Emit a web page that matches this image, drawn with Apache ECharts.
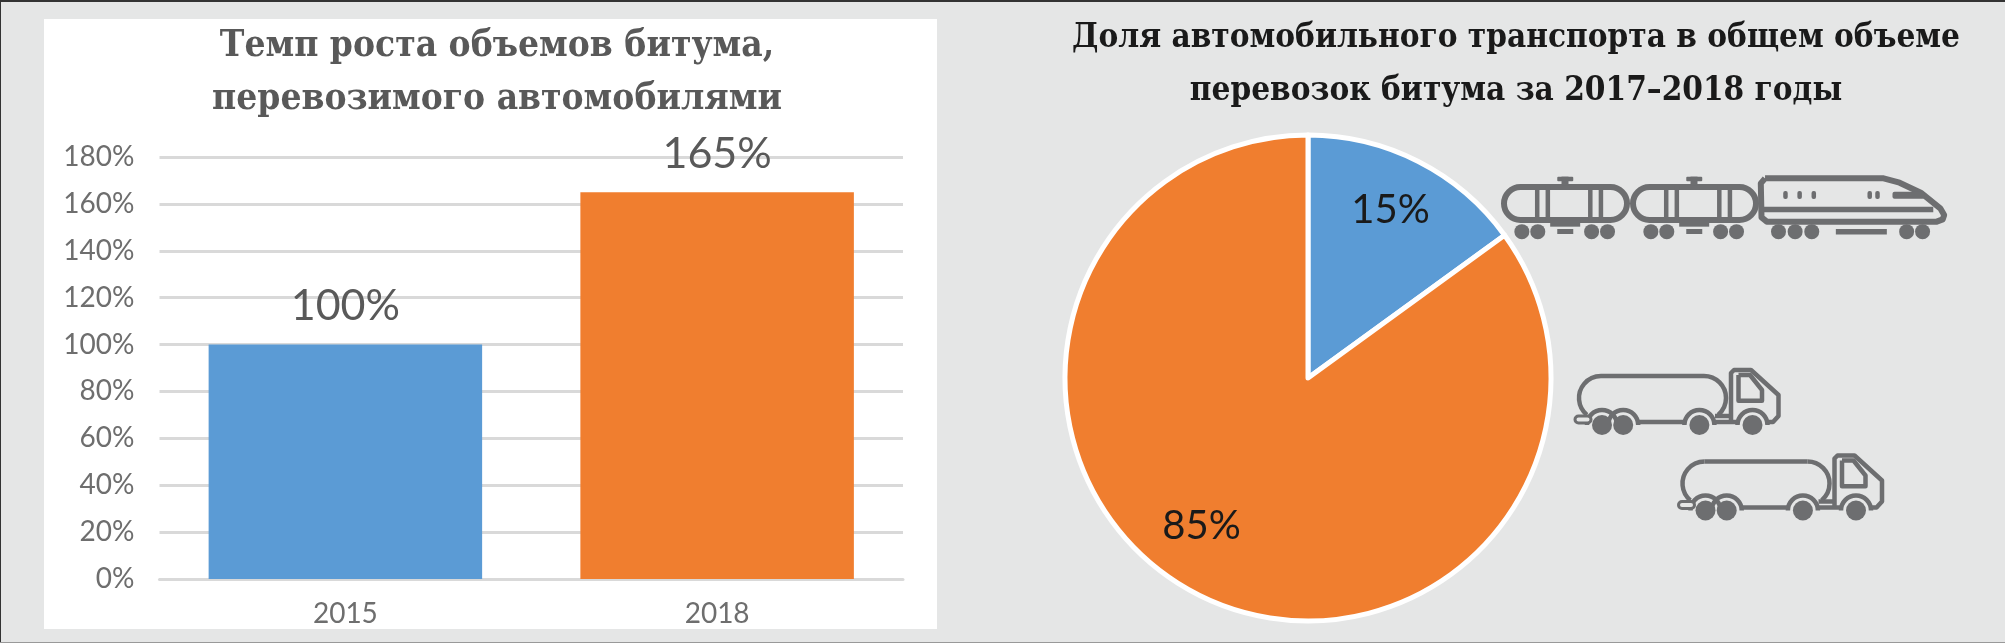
<!DOCTYPE html>
<html lang="ru">
<head>
<meta charset="utf-8">
<title>Битум</title>
<style>
  html, body { margin: 0; padding: 0; background: #e5e6e6; }
  #chart { width: 2005px; height: 643px; }
</style>
<script src="https://cdn.jsdelivr.net/npm/echarts@6/dist/echarts.min.js"></script>
</head>
<body>
<div id="chart"></div>
<script>
// данные графиков
const years = ['2015', '2018'];
const growth = [100, 165];
const barColors = ['#5b9bd5', '#f07e2f'];
const yTicks = [0, 20, 40, 60, 80, 100, 120, 140, 160, 180];
const shareNames = ['Железнодорожный транспорт', 'Автомобильный транспорт'];
const shares = [15, 85];
const pieColors = ['#5b9bd5', '#f07e2f'];

const ICON = '#6d6e70';
const BG = '#e5e6e6';
const SW = 4.5; // толщина линий у грузовика

// координаты из кропа иконок
const X = z => 1450 + z / 2.825;
const Y = z => 130 + z / 3;
const rad = d => d * Math.PI / 180;

const line = (x1, y1, x2, y2, w) => ({
  type: 'line', z: 10,
  shape: { x1, y1, x2, y2 },
  style: { stroke: ICON, lineWidth: w || SW, fill: null }
});
const poly = (points, w) => ({
  type: 'polyline', z: 10,
  shape: { points },
  style: { stroke: ICON, lineWidth: w || SW, fill: null, lineJoin: 'round' }
});
const arc = (cx, cy, r, a, b) => ({
  type: 'arc', z: 10,
  shape: { cx, cy, r, startAngle: rad(a), endAngle: rad(b), clockwise: true },
  style: { stroke: ICON, lineWidth: SW, fill: null }
});
const wheel = (cx, cy, r) => ({
  type: 'circle', z: 11,
  shape: { cx, cy, r },
  style: { fill: ICON }
});
const block = (x, y, width, height, r) => ({
  type: 'rect', z: 10,
  shape: { x, y, width, height, r: r || 0 },
  style: { fill: ICON }
});

// цистерна-вагон, ox — сдвиг вправо в пикселях
function wagon(ox) {
  const children = [
    {
      type: 'rect', z: 10,
      shape: { x: 1504, y: 187, width: 123, height: 33, r: 16.5 },
      style: { stroke: ICON, lineWidth: 6, fill: null }
    },
    block(X(240), 186, 4.5, 35), block(X(270), 186, 4.5, 35),
    block(X(390), 186, 4.5, 35), block(X(420), 186, 4.5, 35),
    block(X(303), Y(140), 16, 4.5, 1), block(X(315), Y(140), 7, 9),
    block(X(283), Y(272), 30, 6), block(X(303), Y(297), 16, 5)
  ];
  [203, 248, 400, 445].forEach(z => children.push(wheel(X(z), Y(305), 7.5)));
  return { type: 'group', x: ox, y: 0, children };
}

function train() {
  const body = [
    [X(890), Y(145)], [X(1225), Y(145)], [X(1270), Y(158)], [X(1330), Y(188)],
    [X(1385), Y(235)], [X(1396), Y(255)], [X(1392), Y(268)], [X(1375), Y(275)],
    [X(895), Y(275)], [X(880), Y(262)], [X(878), Y(160)], [X(890), Y(145)]
  ];
  const children = [
    poly(body, 6),
    block(X(885), Y(230), 170, 5.5),
    block(X(1250), Y(185), 32, 7, 2),
    block(X(1090), Y(297), 51, 5.5)
  ];
  [947, 987, 1027, 1185, 1207].forEach(z => {
    children.push(block(X(z) - 2, Y(195) - 4, 4.5, 8, 2));
  });
  [928, 975, 1022, 1290, 1335].forEach(z => children.push(wheel(X(z), Y(305), 7.5)));
  return { type: 'group', children };
}

// бензовоз, координаты от левого верхнего угла цистерны
function truck(ox, oy) {
  const children = [
    arc(22, 22, 22, 130, 270),
    line(22, 0, 125, 0),
    arc(125, 22, 22, -90, 50),
    poly([[136, 40], [152, 40]]),
    arc(23, 49, 15, 180, 360),
    arc(44.2, 49, 15, 180, 360),
    arc(120.4, 49, 15, 180, 360),
    arc(173.5, 49, 15, 180, 360),
    line(58.4, 46, 106, 46),
    line(134, 46, 159, 46),
    poly([[152, 45], [152, -3], [155, -6], [172, -6], [199.5, 19], [199.5, 40], [194, 46], [188, 46]]),
    poly([[159.5, -1], [171, -1], [183, 14], [183, 24.7], [159.5, 24.7], [159.5, -1]]),
    {
      type: 'rect', z: 10,
      shape: { x: -4, y: 40, width: 16, height: 7, r: 3.5 },
      style: { stroke: ICON, lineWidth: 3, fill: BG }
    }
  ];
  [23, 44.2, 120.4, 173.5].forEach(x => children.push(wheel(x, 49, 10)));
  return { type: 'group', x: ox, y: oy, children };
}

const chart = echarts.init(document.getElementById('chart'));

const option = {
  backgroundColor: BG,
  animation: false,
  title: [
    {
      text: 'Темп роста объемов битума,\nперевозимого автомобилями',
      left: 492, top: 15, textAlign: 'center',
      textStyle: {
        color: '#595959', fontFamily: '"DejaVu Serif Condensed", "DejaVu Serif"',
        fontWeight: 'bold', fontSize: 36.75, lineHeight: 53
      }
    },
    {
      text: 'Доля автомобильного транспорта в общем объеме\nперевозок битума за 2017–2018 годы',
      left: 1511, top: 7, textAlign: 'center',
      textStyle: {
        color: '#1a1a1a', fontFamily: '"DejaVu Serif Condensed", "DejaVu Serif"',
        fontWeight: 'bold', fontSize: 33, lineHeight: 53
      }
    }
  ],
  grid: { left: 159.5, width: 743.5, top: 157, height: 422 },
  xAxis: {
    type: 'category',
    data: years,
    axisTick: { show: false },
    axisLine: { lineStyle: { color: '#d9d9d9', width: 3 } },
    axisLabel: { color: '#6e6e6e', fontFamily: 'Lato', fontSize: 28, margin: 21 }
  },
  yAxis: {
    type: 'value',
    min: yTicks[0],
    max: yTicks[yTicks.length - 1],
    interval: yTicks[1] - yTicks[0],
    axisLine: { show: false },
    axisTick: { show: false },
    axisLabel: {
      color: '#6e6e6e', fontFamily: 'Lato', fontSize: 28, margin: 25,
      formatter: '{value}%'
    },
    splitLine: { lineStyle: { color: '#d9d9d9', width: 3 } }
  },
  series: [
    {
      type: 'bar',
      barWidth: 273.5,
      data: growth.map((v, i) => ({ value: v, itemStyle: { color: barColors[i] } })),
      label: {
        show: true,
        position: 'top',
        distance: 17,
        color: '#595959',
        fontFamily: 'Lato',
        fontSize: 43,
        formatter: '{c}%'
      }
    },
    {
      type: 'pie',
      center: [1308, 378],
      radius: [0, 243],
      startAngle: 90,
      silent: true,
      itemStyle: { borderColor: '#fff', borderWidth: 5 },
      labelLine: { show: false },
      data: shares.map((v, i) => ({
        name: shareNames[i],
        value: v,
        itemStyle: { color: pieColors[i] },
        label: {
          show: true,
          position: 'inside',
          formatter: '{c}%',
          color: '#1a1a1a',
          fontFamily: 'Lato',
          fontSize: 40,
          offset: i === 0 ? [26, -57] : [-50, 37]
        }
      }))
    }
  ],
  graphic: { elements: [
    { type: 'rect', z: -1, shape: { x: 44, y: 19, width: 893, height: 610 }, style: { fill: '#fff' } },
    { type: 'rect', z: 20, shape: { x: 0, y: 0, width: 2005, height: 2 }, style: { fill: '#333' } },
    { type: 'rect', z: 20, shape: { x: 0, y: 0, width: 1, height: 643 }, style: { fill: '#333' } },
    { type: 'rect', z: 20, shape: { x: 0, y: 642, width: 2005, height: 1 }, style: { fill: '#999' } },
    wagon(0),
    wagon(129),
    train(),
    truck(1579, 376),
    truck(1682.5, 461.5)
  ] }
};

chart.setOption(option);
</script>
</body>
</html>
